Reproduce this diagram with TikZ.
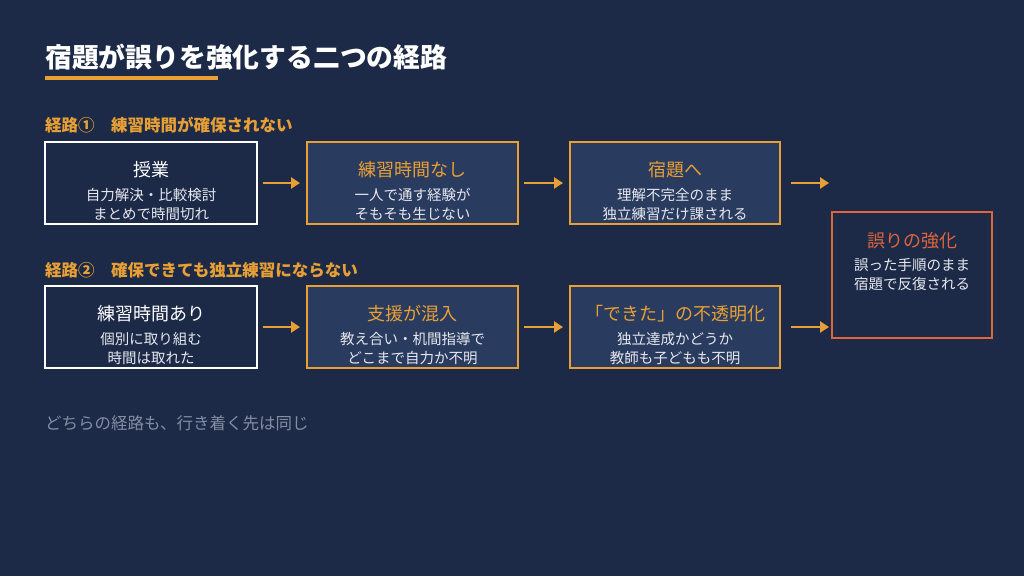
\documentclass[tikz,border=0pt]{standalone}
\usepackage{fontspec}
\setmainfont{Noto Sans CJK JP}
\usetikzlibrary{arrows.meta}
\definecolor{bg}{HTML}{1C2A48}
\definecolor{boxfill}{HTML}{2A3B60}
\definecolor{accent}{HTML}{E8A035}
\definecolor{redc}{HTML}{E0653A}
\definecolor{subtext}{HTML}{E6E8EE}
\definecolor{muted}{HTML}{848DA2}
\tikzset{
  plainbox/.style={draw=white, line width=2pt, fill=bg, minimum height=82pt, inner sep=0pt},
  hlbox/.style={draw=accent, line width=2pt, fill=boxfill, minimum height=82pt, inner sep=0pt},
  finbox/.style={draw=redc, line width=2pt, fill=bg, minimum width=160pt, minimum height=126pt, inner sep=0pt},
  ttlw/.style={text=white, font=\fontsize{18}{22}\selectfont, inner sep=0pt},
  ttlo/.style={text=accent, font=\fontsize{18}{22}\selectfont, inner sep=0pt},
  ttlr/.style={text=redc, font=\fontsize{18}{22}\selectfont, inner sep=0pt},
  subt/.style={text=subtext, font=\fontsize{14.5}{19.5}\selectfont, align=center, inner sep=0pt},
  flow/.style={draw=accent, line width=2.5pt, -{Triangle[length=9pt,width=11pt]}},
  routelbl/.style={text=accent, font=\bfseries\fontsize{16.5}{20}\selectfont, anchor=west, inner sep=0pt},
}
\begin{document}
\begin{tikzpicture}[x=1pt,y=-1pt]
\fill[bg] (0,0) rectangle (1024,576);
\useasboundingbox (0,0) rectangle (1024,576);

% title
\node[anchor=west, text=white, font=\bfseries\fontsize{26.8}{30}\selectfont, inner sep=0pt] (title) at (45,57) {宿題が誤りを強化する二つの経路};
\fill[accent] (45,76) rectangle (218,79.5);

% route labels
\node[routelbl] (r1) at (45,125.5) {経路①　練習時間が確保されない};
\node[routelbl] (r2) at (45,270) {経路②　確保できても独立練習にならない};

% row 1
\node[plainbox, minimum width=212pt] (a1) at (151,183) {};
\node[hlbox, minimum width=211pt] (a2) at (412.5,183) {};
\node[hlbox, minimum width=210pt] (a3) at (675,183) {};
\node[ttlw] (a1t) at (151,170) {授業};
\node[subt] (a1s) at (151,204.5) {自力解決・比較検討\\まとめで時間切れ};
\node[ttlo] (a2t) at (412.5,170) {練習時間なし};
\node[subt] (a2s) at (412.5,204.5) {一人で通す経験が\\そもそも生じない};
\node[ttlo] (a3t) at (675,170) {宿題へ};
\node[subt] (a3s) at (675,204.5) {理解不完全のまま\\独立練習だけ課される};

% row 2
\node[plainbox, minimum width=212pt] (b1) at (151,327) {};
\node[hlbox, minimum width=211pt] (b2) at (412.5,327) {};
\node[hlbox, minimum width=210pt] (b3) at (675,327) {};
\node[ttlw] (b1t) at (151,313.5) {練習時間あり};
\node[subt] (b1s) at (151,348.5) {個別に取り組む\\時間は取れた};
\node[ttlo] (b2t) at (412.5,313.5) {支援が混入};
\node[subt] (b2s) at (412.5,348.5) {教え合い・机間指導で\\どこまで自力か不明};
\node[ttlo] (b3t) at (675,313.5) {「できた」の不透明化};
\node[subt] (b3s) at (675,348.5) {独立達成かどうか\\教師も子どもも不明};

% final
\node[finbox] (f) at (912,275) {};
\node[ttlr] (ft) at (912,240.5) {誤りの強化};
\node[subt] (fs) at (912,274.5) {誤った手順のまま\\宿題で反復される};

% arrows
\coordinate (e1) at (829,183);
\coordinate (e2) at (829,327);
\draw[flow, shorten <=5pt, shorten >=6pt] (a1) -- (a2);
\draw[flow, shorten <=5pt, shorten >=6pt] (a2) -- (a3);
\draw[flow, shorten <=10pt] (a3.east) -- (e1);
\draw[flow, shorten <=5pt, shorten >=6pt] (b1) -- (b2);
\draw[flow, shorten <=5pt, shorten >=6pt] (b2) -- (b3);
\draw[flow, shorten <=10pt] (b3.east) -- (e2);

% footer
\node[anchor=west, text=muted, font=\fontsize{16.5}{20}\selectfont, inner sep=0pt] (foot) at (45,423) {どちらの経路も、行き着く先は同じ};
\end{tikzpicture}
\end{document}
